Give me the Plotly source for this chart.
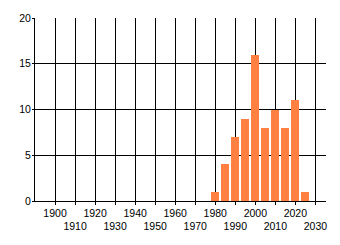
import plotly.graph_objects as go

years = [1980, 1985, 1990, 1995, 2000, 2005, 2010, 2015, 2020, 2025]
counts = [1, 4, 7, 9, 16, 8, 10, 8, 11, 1]
tick_years = list(range(1900, 2031, 10))
tick_labels = [str(y) if i % 2 == 0 else "<br>" + str(y) for i, y in enumerate(tick_years)]
y_ticks = [0, 5, 10, 15, 20]

fig = go.Figure(go.Bar(x=years, y=counts, width=4, marker=dict(color="#FF8040", line=dict(width=0))))

fig.update_layout(
    width=340, height=245,
    margin=dict(l=35, r=14, t=14, b=44),
    paper_bgcolor="white", plot_bgcolor="white",
    showlegend=False,
    font=dict(family="Liberation Sans, Arial, sans-serif", size=10.5, color="black"),
    bargap=0,
)
fig.update_xaxes(
    range=[1890, 2035.3],
    tickvals=tick_years, ticktext=tick_labels,
    showgrid=True, gridcolor="black", gridwidth=1,
    showline=True, linecolor="black", linewidth=1,
    ticks="outside", ticklen=3, tickcolor="black",
    zeroline=False, tickangle=0, ticklabelstandoff=-1,
)
fig.update_yaxes(
    range=[0, 20], tickvals=y_ticks,
    showgrid=True, gridcolor="black", gridwidth=1,
    showline=True, linecolor="black", linewidth=1,
    ticks="outside", ticklen=2, tickcolor="black",
    zeroline=False, ticklabelstandoff=-1,
)

fig.write_html("out.html")
